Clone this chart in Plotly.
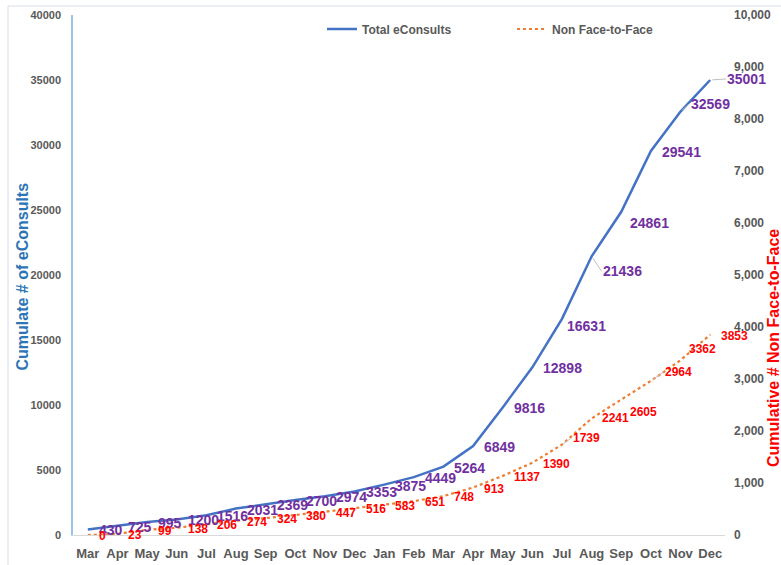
import plotly.graph_objects as go

# ---------------- data ----------------
months = ["Mar", "Apr", "May", "Jun", "Jul", "Aug", "Sep", "Oct", "Nov", "Dec", "Jan",
          "Feb", "Mar", "Apr", "May", "Jun", "Jul", "Aug", "Sep", "Oct", "Nov", "Dec"]
total_econsults = [430, 725, 995, 1200, 1516, 2031, 2369, 2700, 2974, 3353, 3875,
                   4449, 5264, 6849, 9816, 12898, 16631, 21436, 24861, 29541, 32569, 35001]
non_face_to_face = [0, 23, 99, 138, 206, 274, 324, 380, 447, 516, 583,
                    651, 748, 913, 1137, 1390, 1739, 2241, 2605, 2964, 3362, 3853]
left_ticks = [0, 5000, 10000, 15000, 20000, 25000, 30000, 35000, 40000]
right_ticks = [0, 1000, 2000, 3000, 4000, 5000, 6000, 7000, 8000, 9000, 10000]

# ---------------- styling / label placement (pixels) ----------------
W, H = 781, 565
ML, MR, MT, MB = 73, 56, 15, 30
PW, PH = W - ML - MR, H - MT - MB

BLUE = "#4472C4"
ORANGE = "#ED7D31"
PURPLE = "#7030A0"
RED = "#FF0000"
GRAY = "#595959"
FONT = "Liberation Sans, Arial, sans-serif"

default_off = (10, 1)
total_off = {16: (4, 7), 17: (10, 15), 18: (8, 11), 20: (9, -8), 21: (16, -1)}
total_leader = {17, 20, 21}
nf_off = {16: (10, -7), 17: (9, 0), 18: (8, 12), 19: (13, -9), 20: (7, -11)}
nf_leader = {16, 19}

xs = list(range(len(months)))

fig = go.Figure()
fig.add_trace(go.Scatter(
    x=xs, y=total_econsults, mode="lines", name="Total eConsults",
    line=dict(color=BLUE, width=2.5), legend="legend", hoverinfo="skip"))
fig.add_trace(go.Scatter(
    x=xs, y=non_face_to_face, mode="lines", name="Non Face-to-Face", yaxis="y2",
    line=dict(color=ORANGE, width=2.2, dash="dot"), legend="legend2", hoverinfo="skip"))

annotations = []


def add_labels(values, yref, color, size, offs, leaders):
    for i, v in enumerate(values):
        dx, dy = offs.get(i, default_off)
        common = dict(x=xs[i], y=v, xref="x", yref=yref, text=str(v),
                      xanchor="left", yanchor="middle", borderpad=0,
                      font=dict(family=FONT, size=size, color=color, weight="bold"))
        if i in leaders:
            annotations.append(dict(showarrow=True, ax=dx, ay=dy, arrowhead=0,
                                    arrowwidth=1, arrowcolor="#BFBFBF", standoff=2,
                                    **common))
        else:
            annotations.append(dict(showarrow=False, xshift=dx, yshift=-dy, **common))


add_labels(total_econsults, "y", PURPLE, 14, total_off, total_leader)
add_labels(non_face_to_face, "y2", RED, 12, nf_off, nf_leader)

# axis titles
annotations.append(dict(
    text="Cumulate # of eConsults", xref="paper", yref="paper",
    x=(21.5 - ML) / PW, y=(H - MB - 277) / PH, textangle=-90, showarrow=False,
    xanchor="center", yanchor="middle",
    font=dict(family=FONT, size=16, color="#2E75B6", weight="bold")))
annotations.append(dict(
    text="Cumulative # Non Face-to-Face", xref="paper", yref="paper",
    x=(773 - ML) / PW, y=(H - MB - 348) / PH, textangle=-90, showarrow=False,
    xanchor="center", yanchor="middle",
    font=dict(family=FONT, size=16, color=RED, weight="bold")))

legend_font = dict(family=FONT, size=12, color=GRAY, weight="bold")

fig.update_layout(
    width=W, height=H,
    margin=dict(l=ML, r=MR, t=MT, b=MB, autoexpand=False),
    paper_bgcolor="white", plot_bgcolor="white",
    showlegend=True,
    legend=dict(x=(322 - ML) / PW, y=(H - MB - 29) / PH, xanchor="left", yanchor="middle",
                orientation="h", font=legend_font, bgcolor="rgba(0,0,0,0)"),
    legend2=dict(x=(512 - ML) / PW, y=(H - MB - 29) / PH, xanchor="left", yanchor="middle",
                 orientation="h", font=legend_font, bgcolor="rgba(0,0,0,0)"),
    xaxis=dict(range=[-0.5, len(months) - 0.5], tickmode="array", tickvals=xs,
               ticktext=months, showgrid=False, zeroline=False, showline=True,
               linecolor="#D9D9D9", linewidth=1, ticks="", ticklabelstandoff=6,
               tickfont=dict(family=FONT, size=13, color=GRAY, weight="bold"),
               fixedrange=True, automargin=False),
    yaxis=dict(range=[0, 40000], tickmode="array", tickvals=left_ticks,
               tickformat="d", showgrid=False, zeroline=False, showline=True,
               linecolor="#9DC3E6", linewidth=1.5, ticks="", ticklabelstandoff=8,
               tickfont=dict(family=FONT, size=11, color=GRAY, weight="bold"),
               fixedrange=True, automargin=False),
    yaxis2=dict(range=[0, 10000], tickmode="array", tickvals=right_ticks,
                tickformat=",", overlaying="y", side="right", showgrid=False,
                zeroline=False, showline=False, ticks="", ticklabelstandoff=8,
                tickfont=dict(family=FONT, size=12, color=GRAY, weight="bold"),
                fixedrange=True, automargin=False),
    annotations=annotations,
    shapes=[dict(type="rect", xref="paper", yref="paper",
                 x0=(8 - ML) / PW, x1=(W + 20 - ML) / PW,
                 y0=(H - MB - (H + 20)) / PH, y1=(H - MB - 6) / PH,
                 line=dict(color="#D6DCE5", width=1), fillcolor="rgba(0,0,0,0)",
                 layer="below")],
)

fig.write_html(
    "out.html",
    config={"displayModeBar": False},
    post_script="document.body.style.margin='0px';document.body.style.overflow='hidden';",
)
